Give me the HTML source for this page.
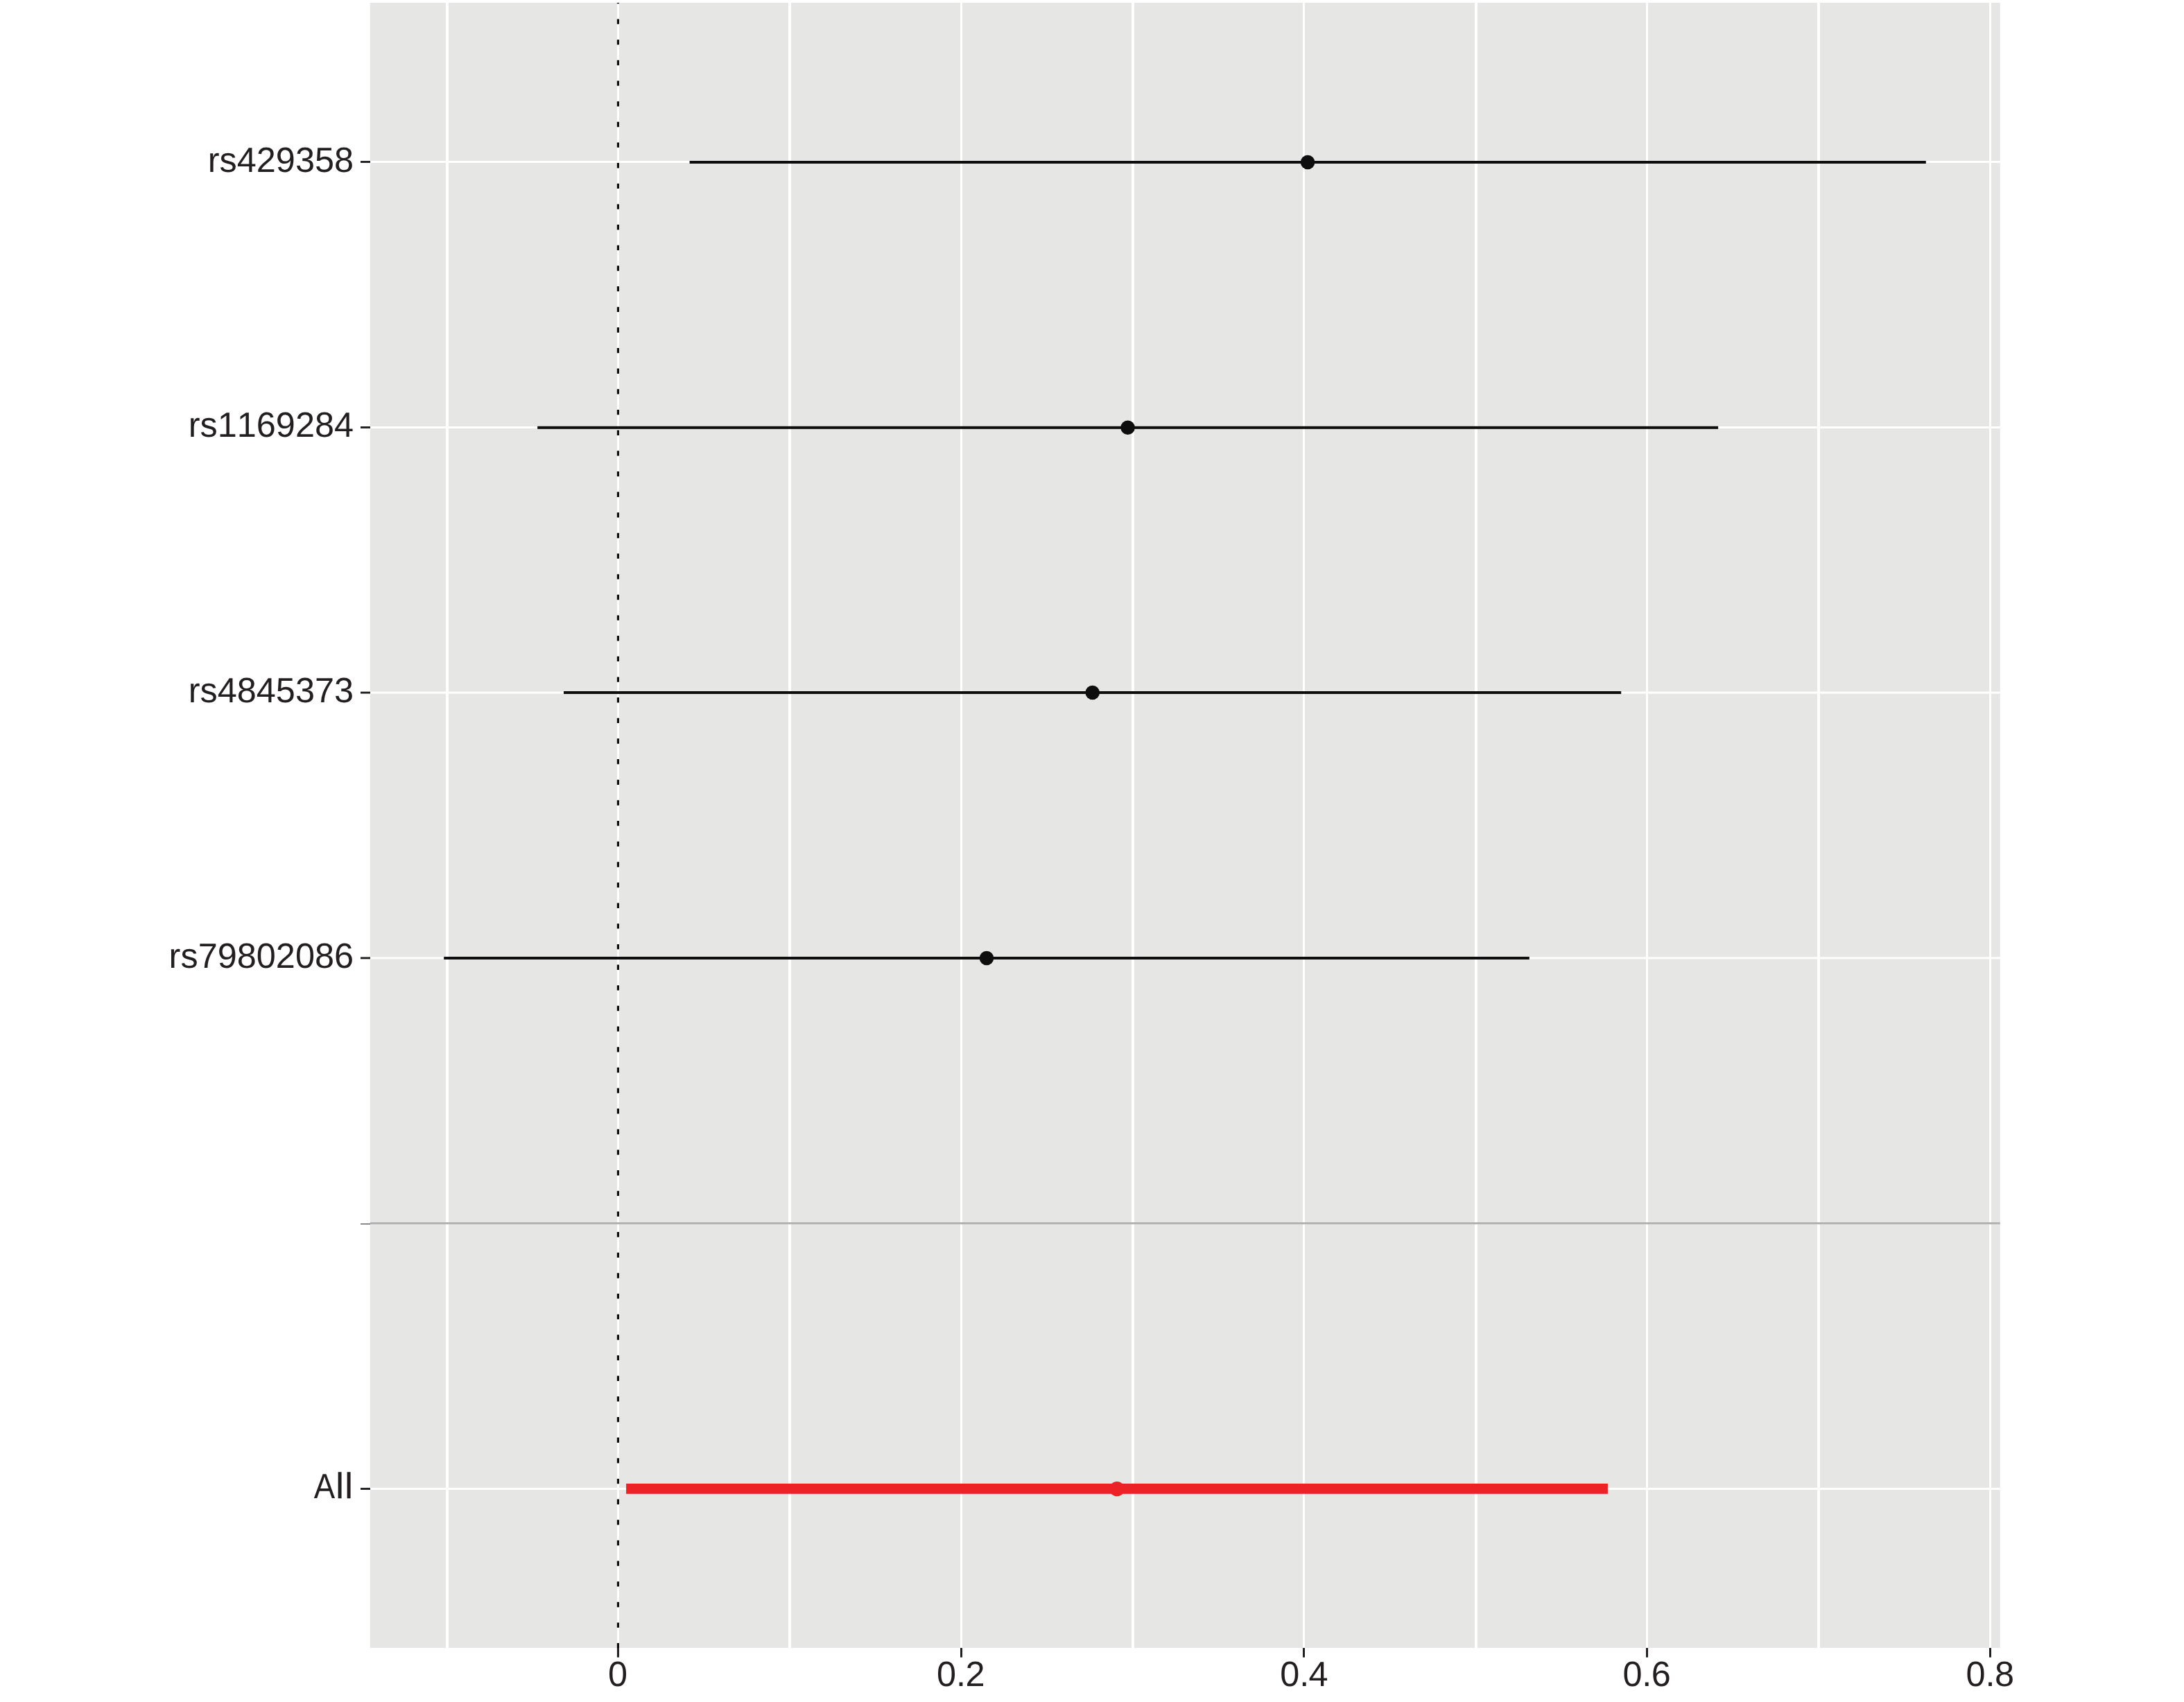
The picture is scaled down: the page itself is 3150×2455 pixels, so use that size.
<!DOCTYPE html>
<html><head><meta charset="utf-8"><title>Forest plot</title>
<style>html,body{margin:0;padding:0;background:#fff;}svg{display:block;}text{font-family:"Liberation Sans",sans-serif;fill:#231f20;font-kerning:none;text-rendering:geometricPrecision;}</style>
</head><body>
<svg width="3150" height="2455" viewBox="0 0 3150 2455">
<rect x="0" y="0" width="3150" height="2455" fill="#ffffff"/>
<rect x="533.8" y="4" width="2351" height="2373" fill="#e6e6e4"/>
<rect x="643" y="4" width="4" height="2373" fill="#fff"/>
<rect x="890" y="4" width="3" height="2373" fill="#fff"/>
<rect x="1137" y="4" width="4" height="2373" fill="#fff"/>
<rect x="1385" y="4" width="3" height="2373" fill="#fff"/>
<rect x="1632" y="4" width="4" height="2373" fill="#fff"/>
<rect x="1879" y="4" width="3" height="2373" fill="#fff"/>
<rect x="2127" y="4" width="4" height="2373" fill="#fff"/>
<rect x="2374" y="4" width="3" height="2373" fill="#fff"/>
<rect x="2621" y="4" width="4" height="2373" fill="#fff"/>
<rect x="2869" y="4" width="3" height="2373" fill="#fff"/>
<rect x="533.8" y="232" width="2351" height="3" fill="#fff"/>
<rect x="533.8" y="615" width="2351" height="3" fill="#fff"/>
<rect x="533.8" y="997.6" width="2351" height="3" fill="#fff"/>
<rect x="533.8" y="1380.4" width="2351" height="3" fill="#fff"/>
<rect x="533.8" y="2146" width="2351" height="3" fill="#fff"/>
<rect x="533.8" y="1763" width="2351" height="3" fill="#b3b3b3"/>
<clipPath id="pc"><rect x="533.8" y="4" width="2351" height="2374"/></clipPath>
<line x1="891.45" y1="2377.45" x2="891.45" y2="-10" stroke="#0d0e0d" stroke-width="3.1" stroke-dasharray="7.35 22.303" clip-path="url(#pc)"/>
<rect x="994.6" y="232" width="1783.2" height="4" fill="#0d0e0d"/>
<circle cx="1886.1" cy="234" r="10.3" fill="#0d0e0d"/>
<rect x="775.2" y="614.8" width="1702.9" height="4" fill="#0d0e0d"/>
<circle cx="1626.6" cy="616.8" r="10.3" fill="#0d0e0d"/>
<rect x="813" y="997" width="1525.2" height="4" fill="#0d0e0d"/>
<circle cx="1575.7" cy="999" r="10.3" fill="#0d0e0d"/>
<rect x="640.2" y="1380" width="1565.6" height="4" fill="#0d0e0d"/>
<circle cx="1423" cy="1382" r="10.3" fill="#0d0e0d"/>
<rect x="903.1" y="2140" width="1415.8" height="14.8" fill="#ec2227"/>
<circle cx="1611.0" cy="2147.6" r="10.7" fill="#ec2227"/>
<rect x="520" y="232.05" width="14" height="2.9" fill="#231f20"/>
<rect x="520" y="615.05" width="14" height="2.9" fill="#231f20"/>
<rect x="520" y="997.65" width="14" height="2.9" fill="#231f20"/>
<rect x="520" y="1380.45" width="14" height="2.9" fill="#231f20"/>
<rect x="520" y="2146.05" width="14" height="2.9" fill="#231f20"/>
<rect x="520" y="1765" width="14" height="1" fill="#231f20"/>
<rect x="889.95" y="2377" width="3" height="13.6" fill="#231f20"/>
<rect x="1385" y="2377" width="3" height="13.6" fill="#231f20"/>
<rect x="1879" y="2377" width="3" height="13.6" fill="#231f20"/>
<rect x="2374" y="2377" width="3" height="13.6" fill="#231f20"/>
<rect x="2869" y="2377" width="3" height="13.6" fill="#231f20"/>
<text transform="translate(510.05,248.3) scale(1,1.005)" font-size="50.45" text-anchor="end">rs429358</text>
<text transform="translate(510.05,630.2) scale(1,1.005)" font-size="50.45" text-anchor="end">rs1169284</text>
<text transform="translate(510.05,1013.1) scale(1,1.005)" font-size="50.45" text-anchor="end">rs4845373</text>
<text transform="translate(510.05,1396.1) scale(1,1.005)" font-size="50.45" text-anchor="end">rs79802086</text>
<text transform="translate(452.711,2161) scale(0.903,1.005)" font-size="50.45" text-anchor="start">A</text>
<text stroke="#231f20" stroke-width="0.35" transform="translate(484.55,2161) scale(1,1.03)" font-size="50.45" text-anchor="start">l</text>
<text stroke="#231f20" stroke-width="0.35" transform="translate(497.6,2161) scale(1,1.03)" font-size="50.45" text-anchor="start">l</text>
<text transform="translate(891,2432.3) scale(1,1.005)" font-size="50.45" text-anchor="middle">0</text>
<text transform="translate(1385,2432.3) scale(1,1.005)" font-size="50.45" text-anchor="middle" dx="0.75 -0.15 -0.6">0.2</text>
<text transform="translate(1880.2,2432.3) scale(1,1.005)" font-size="50.45" text-anchor="middle" dx="0.75 -0.15 -0.6">0.4</text>
<text transform="translate(2374.4,2432.3) scale(1,1.005)" font-size="50.45" text-anchor="middle" dx="0.75 -0.15 -0.6">0.6</text>
<text transform="translate(2869.5,2432.3) scale(1,1.005)" font-size="50.45" text-anchor="middle" dx="0.75 -0.15 -0.6">0.8</text>
</svg></body></html>
